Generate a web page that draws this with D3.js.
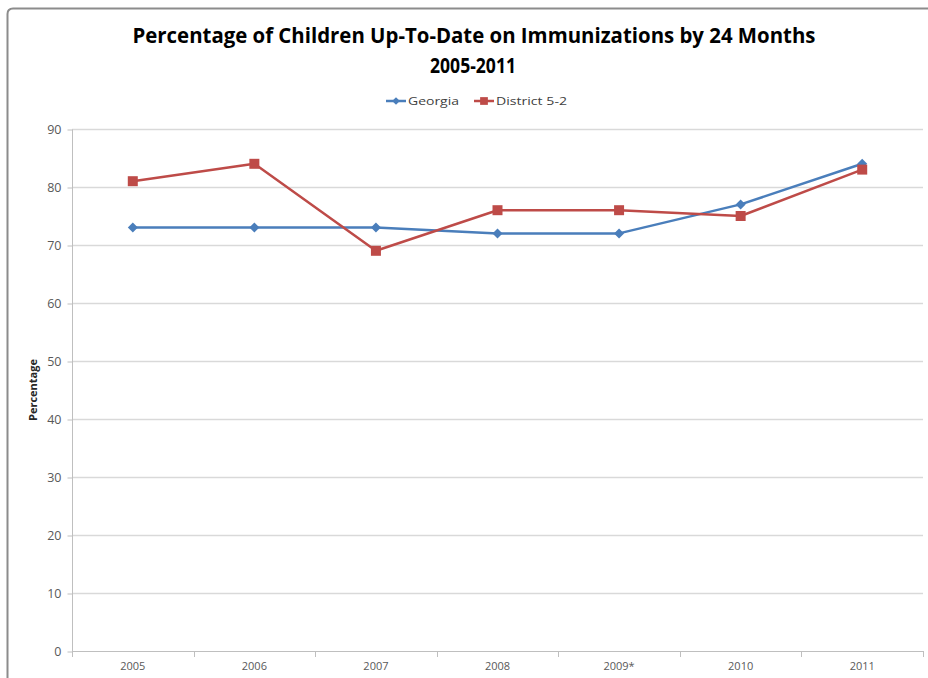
<!DOCTYPE html>
<html>
<head>
<meta charset="utf-8">
<script src="https://cdn.jsdelivr.net/npm/d3@7"></script>
<style>
  body { margin: 0; background: #fff; }
  svg { display: block; font-family: "Open Sans", "Noto Sans", sans-serif; }
</style>
</head>
<body>
<svg id="chart"></svg>
<script>
var years = ['2005', '2006', '2007', '2008', '2009*', '2010', '2011']
var georgia = [73, 73, 73, 72, 72, 77, 84]
var district = [81, 84, 69, 76, 76, 75, 83]
var yTicks = [0, 10, 20, 30, 40, 50, 60, 70, 80, 90]

var width = 928, height = 678
var plotLeft = 72, plotRight = 923, plotTop = 129, plotBottom = 651

var svg = d3.select('#chart')
    .attr('width', width)
    .attr('height', height)

// outer chart frame
svg.append('path')
    .attr('d', 'M7.5,' + (height + 5) + ' L7.5,14 Q7.5,8.5 13,8.5 L' + (width + 5) + ',8.5')
    .attr('fill', 'none')
    .attr('stroke', '#8c8c8c')
    .attr('stroke-width', 2)

var xScale = d3.scaleBand()
    .domain(years)
    .range([plotLeft, plotRight])

var yScale = d3.scaleLinear()
    .domain([0, 90])
    .range([plotBottom, plotTop])

// gridlines
svg.append('g')
    .selectAll('line')
    .data(yTicks.filter(function (d) { return d > 0 }))
    .enter()
    .append('line')
    .attr('x1', plotLeft)
    .attr('x2', plotRight)
    .attr('y1', function (d) { return Math.round(yScale(d)) + 0.5 })
    .attr('y2', function (d) { return Math.round(yScale(d)) + 0.5 })
    .attr('stroke', '#d9d9d9')
    .attr('stroke-width', 1.5)

// y axis
var yAxis = d3.axisLeft(yScale)
    .tickValues(yTicks)
    .tickSize(5)
    .tickPadding(6)
var gy = svg.append('g')
    .attr('transform', 'translate(' + (plotLeft + 0.5) + ',0.5)')
    .call(yAxis)
gy.selectAll('line, path').attr('stroke', '#bfbfbf')
gy.select('.domain').attr('d', 'M0,' + plotTop + 'V' + plotBottom)
gy.selectAll('text')
    .attr('font-size', 12.5)
    .attr('fill', '#595959')
    .attr('font-family', 'Open Sans, sans-serif')

// x axis
var xAxis = d3.axisBottom(xScale)
    .tickSize(0)
    .tickPadding(11)
var gx = svg.append('g')
    .attr('transform', 'translate(0,' + (plotBottom + 0.5) + ')')
    .call(xAxis)
gx.select('.domain').attr('stroke', '#bfbfbf').attr('d', 'M' + plotLeft + ',0H' + plotRight)
gx.selectAll('text')
    .attr('font-size', 11)
    .attr('fill', '#595959')
    .attr('font-family', 'Open Sans, sans-serif')

// band boundary ticks
var bounds = years.map(function (d) { return xScale(d) }).concat([plotRight])
svg.append('g')
    .selectAll('line')
    .data(bounds)
    .enter()
    .append('line')
    .attr('x1', function (d) { return Math.round(d) + 0.5 })
    .attr('x2', function (d) { return Math.round(d) + 0.5 })
    .attr('y1', plotBottom)
    .attr('y2', plotBottom + 6)
    .attr('stroke', '#bfbfbf')

// y title
svg.append('text')
    .attr('transform', 'translate(37,' + ((plotTop + plotBottom) / 2) + ') rotate(-90)')
    .attr('text-anchor', 'middle')
    .attr('font-size', 11)
    .attr('font-weight', 'bold')
    .attr('fill', '#262626')
    .text('Percentage')

// title
svg.append('text')
    .attr('x', 474)
    .attr('y', 43)
    .attr('text-anchor', 'middle')
    .attr('font-size', 21)
    .attr('font-weight', 'bold')
    .attr('textLength', 683)
    .attr('lengthAdjust', 'spacingAndGlyphs')
    .attr('fill', '#000')
    .text('Percentage of Children Up-To-Date on Immunizations by 24 Months')
svg.append('text')
    .attr('x', 473)
    .attr('y', 73)
    .attr('text-anchor', 'middle')
    .attr('font-size', 21)
    .attr('font-weight', 'bold')
    .attr('textLength', 86)
    .attr('lengthAdjust', 'spacingAndGlyphs')
    .attr('fill', '#000')
    .text('2005-2011')

var series = [
    { name: 'Georgia', values: georgia, color: '#4a7ebb', shape: d3.symbolSquare, size: 50, rot: 45, lx: 386, tw: 51 },
    { name: 'District 5-2', values: district, color: '#be4b48', shape: d3.symbolSquare, size: 100, rot: 0, lx: 474, tw: 71 }
]

var line = d3.line()
    .x(function (d, i) { return xScale(years[i]) + xScale.bandwidth() / 2 })
    .y(function (d) { return yScale(d) })

series.forEach(function (s) {
    svg.append('path')
        .datum(s.values)
        .attr('d', line)
        .attr('fill', 'none')
        .attr('stroke', s.color)
        .attr('stroke-width', 2.5)
        .attr('stroke-linejoin', 'round')

    svg.selectAll(null)
        .data(s.values)
        .enter()
        .append('path')
        .attr('d', d3.symbol().type(s.shape).size(s.size))
        .attr('transform', function (d, i) {
            return 'translate(' + (xScale(years[i]) + xScale.bandwidth() / 2) + ',' + yScale(d) + ') rotate(' + s.rot + ')'
        })
        .attr('fill', s.color)

    // legend
    var lg = svg.append('g').attr('transform', 'translate(' + s.lx + ',101)')
    lg.append('line')
        .attr('x1', 0).attr('x2', 20)
        .attr('stroke', s.color)
        .attr('stroke-width', 2.5)
    lg.append('path')
        .attr('d', d3.symbol().type(s.shape).size(s.size * 0.6))
        .attr('transform', 'translate(10,0) rotate(' + s.rot + ')')
        .attr('fill', s.color)
    lg.append('text')
        .attr('x', 22)
        .attr('y', 4)
        .attr('font-size', 11)
        .attr('fill', '#404040')
        .attr('textLength', s.tw)
        .attr('lengthAdjust', 'spacingAndGlyphs')
        .text(s.name)
})
</script>
</body>
</html>
